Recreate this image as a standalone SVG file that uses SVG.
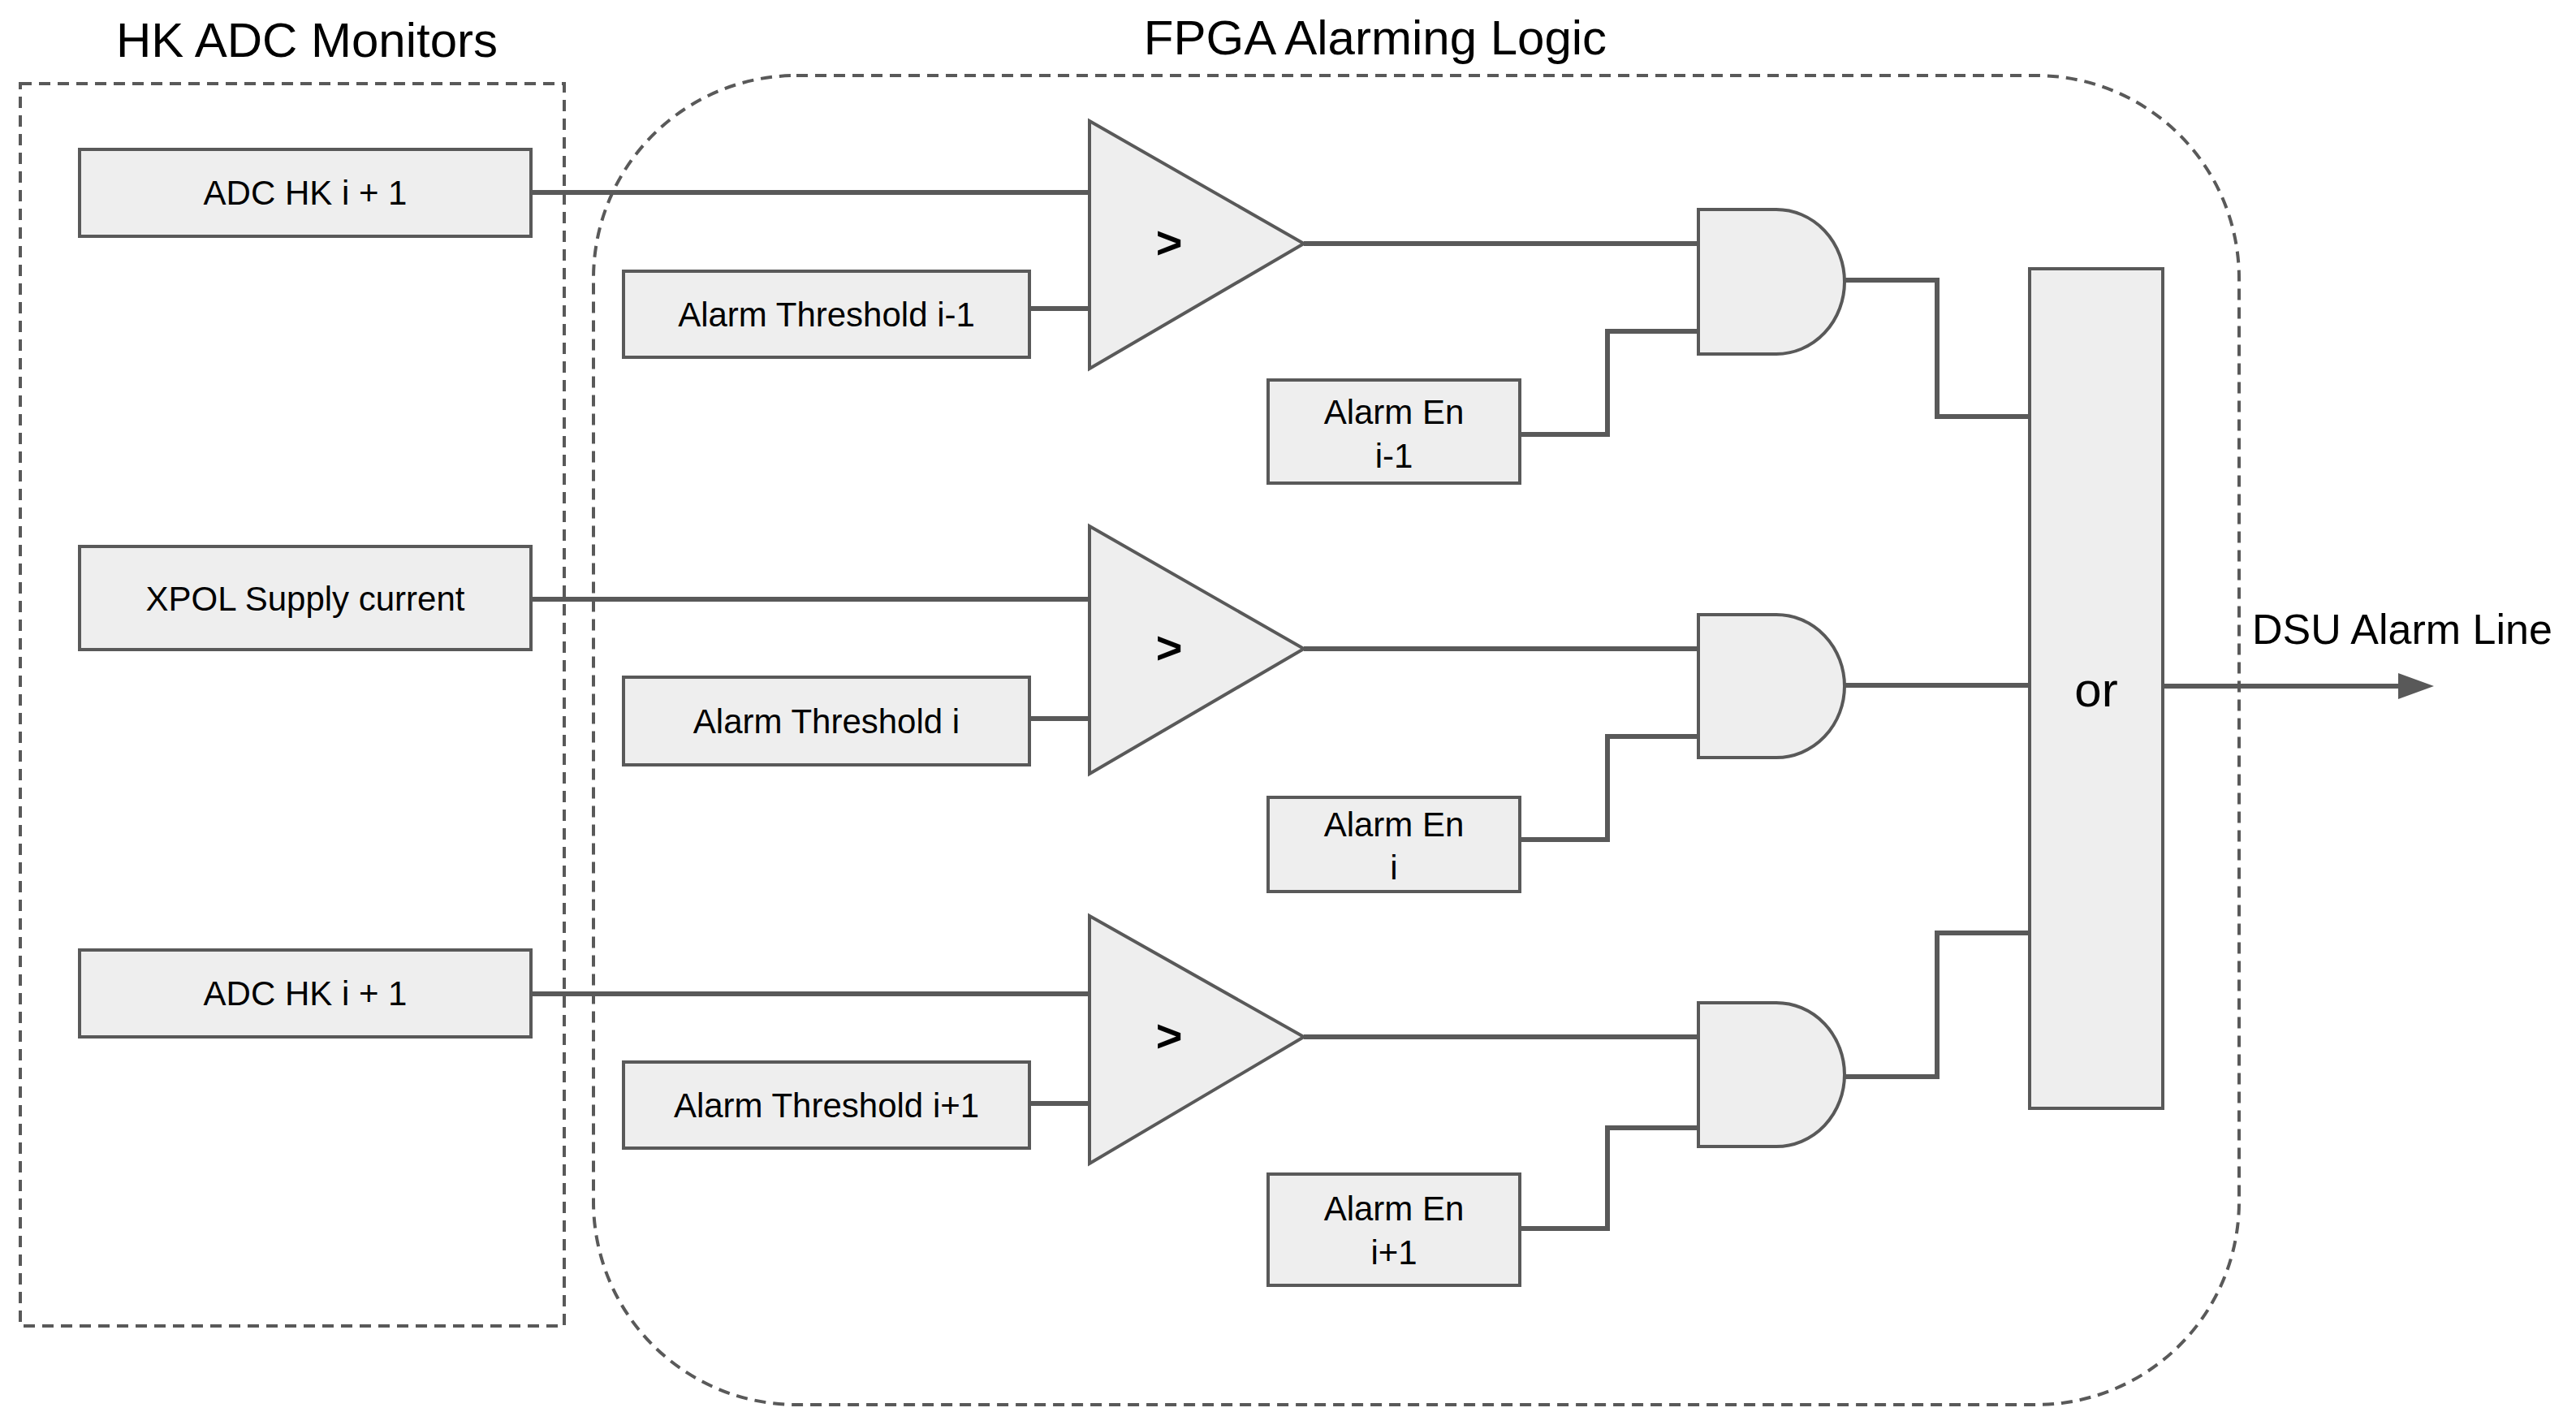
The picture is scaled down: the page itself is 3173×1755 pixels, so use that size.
<svg xmlns="http://www.w3.org/2000/svg" width="3173" height="1755" viewBox="0 0 3173 1755">
<style>
text{font-family:"Liberation Sans",Arial,sans-serif;fill:#000}
.t{font-size:60px}
.l{font-size:42px;text-anchor:middle}
.box{fill:#eeeeee;stroke:#595959;stroke-width:4}
.dash{fill:none;stroke:#595959;stroke-width:4;stroke-dasharray:14 9}
.w{fill:none;stroke:#595959;stroke-width:6}
.g{font-size:56px;font-weight:bold;text-anchor:middle}
</style>
<defs><marker id="ar" markerWidth="10" markerHeight="10" refX="8" refY="5" orient="auto" markerUnits="userSpaceOnUse" viewBox="0 0 10 10"><path d="M0,0 L10,5 L0,10 Z" fill="#595959"/></marker></defs>
<rect x="0" y="0" width="3173" height="1755" fill="#fff"/>
<g id="hk-group"><rect class="dash" x="25" y="103" width="670" height="1530"/><text class="t" x="378" y="70" text-anchor="middle">HK ADC Monitors</text></g>
<g id="fpga-group"><rect class="dash" x="731" y="93" width="2027" height="1637" rx="250" ry="250"/><text class="t" x="1694" y="67" text-anchor="middle">FPGA Alarming Logic</text></g>
<g id="connectors">
<path class="w" d="M654,237 H1342"/>
<path class="w" d="M1268,380 H1342"/>
<path class="w" d="M654,738 H1342"/>
<path class="w" d="M1268,885 H1342"/>
<path class="w" d="M654,1224 H1342"/>
<path class="w" d="M1268,1359 H1342"/>
<path class="w" d="M1606,300 H2092"/>
<path class="w" d="M1606,799 H2092"/>
<path class="w" d="M1606,1277 H2092"/>
<path class="w" d="M1868,535 H1980 V408 H2092"/>
<path class="w" d="M1868,1034 H1980 V907 H2092"/>
<path class="w" d="M1868,1513 H1980 V1389 H2092"/>
<path class="w" d="M2272,345 H2386 V513 H2500"/>
<path class="w" d="M2272,844 H2500"/>
<path class="w" d="M2272,1326 H2386 V1149 H2500"/>
<path class="w" d="M2664,845 H2975"/>
<path d="M2954,829 L2998,845 L2954,861 Z" fill="#595959"/>
</g>
<g id="adc1"><rect class="box" x="98" y="184" width="556" height="107"/><text class="l" x="376" y="252">ADC HK i + 1</text></g>
<g id="xpol"><rect class="box" x="98" y="673" width="556" height="127"/><text class="l" x="376" y="752">XPOL Supply current</text></g>
<g id="adc3"><rect class="box" x="98" y="1170" width="556" height="107"/><text class="l" x="376" y="1238">ADC HK i + 1</text></g>
<g id="thr1"><rect class="box" x="768" y="334" width="500" height="106"/><text class="l" x="1018" y="402">Alarm Threshold i-1</text></g>
<g id="thr2"><rect class="box" x="768" y="834" width="500" height="108"/><text class="l" x="1018" y="903">Alarm Threshold i</text></g>
<g id="thr3"><rect class="box" x="768" y="1308" width="500" height="106"/><text class="l" x="1018" y="1376">Alarm Threshold i+1</text></g>
<g id="cmp1"><path class="box" d="M1342,149 L1606,300 L1342,454 Z"/><text class="g" x="1440" y="318">&gt;</text></g>
<g id="cmp2"><path class="box" d="M1342,648 L1606,799 L1342,953 Z"/><text class="g" x="1440" y="817">&gt;</text></g>
<g id="cmp3"><path class="box" d="M1342,1128 L1606,1277 L1342,1433 Z"/><text class="g" x="1440" y="1295">&gt;</text></g>
<g id="and1"><path class="box" d="M2092,258 H2188 A84,89 0 0 1 2188,436 H2092 Z"/></g>
<g id="and2"><path class="box" d="M2092,757 H2188 A84,88 0 0 1 2188,933 H2092 Z"/></g>
<g id="and3"><path class="box" d="M2092,1235 H2188 A84,88.5 0 0 1 2188,1412 H2092 Z"/></g>
<g id="en1"><rect class="box" x="1562" y="468" width="310" height="127"/><text class="l" x="1717" y="522">Alarm En</text><text class="l" x="1717" y="576">i-1</text></g>
<g id="en2"><rect class="box" x="1562" y="982" width="310" height="116"/><text class="l" x="1717" y="1030">Alarm En</text><text class="l" x="1717" y="1083">i</text></g>
<g id="en3"><rect class="box" x="1562" y="1446" width="310" height="137"/><text class="l" x="1717" y="1503">Alarm En</text><text class="l" x="1717" y="1557">i+1</text></g>
<g id="or"><rect class="box" x="2500" y="331" width="164" height="1034"/><text x="2582" y="870" font-size="60" text-anchor="middle">or</text></g>
<g id="dsu"><text x="2774" y="793" font-size="52">DSU Alarm Line</text></g>
</svg>
